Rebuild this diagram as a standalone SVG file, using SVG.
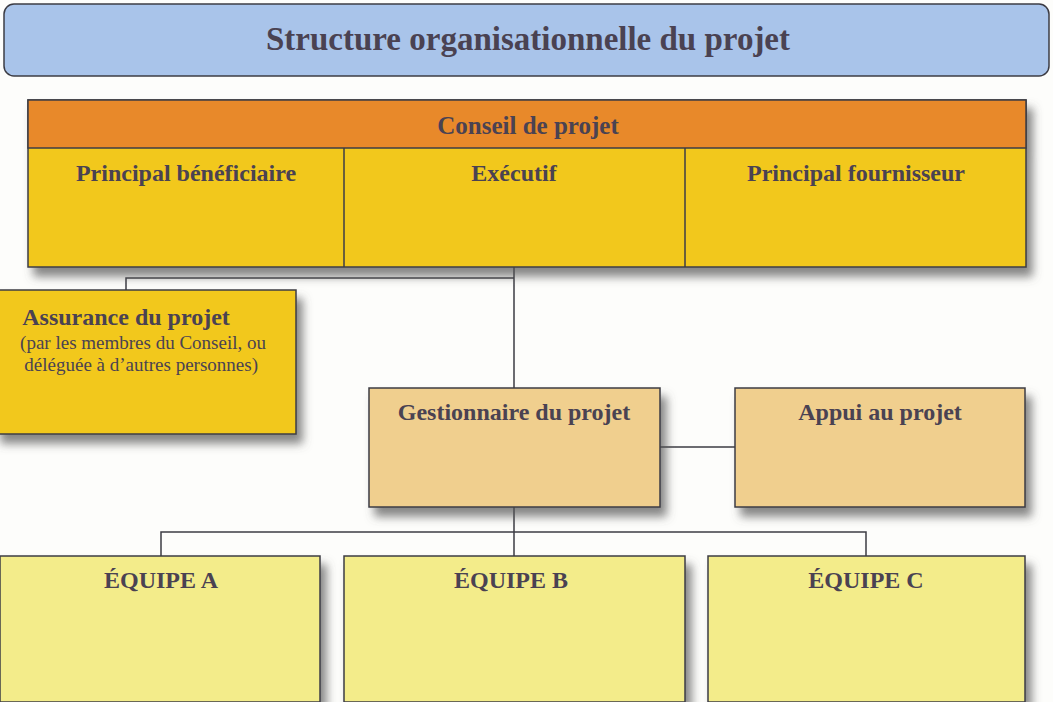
<svg xmlns="http://www.w3.org/2000/svg" width="1053" height="702" viewBox="0 0 1053 702">
<defs>
<filter id="sh" x="-10%" y="-10%" width="130%" height="140%">
<feDropShadow dx="6" dy="9" stdDeviation="5" flood-color="#555" flood-opacity="0.7"/>
</filter>
<style>
.t{font-family:"Liberation Serif","Times New Roman",serif;font-weight:bold;fill:#4a4252;text-anchor:middle;font-size:24px}
.r{font-family:"Liberation Serif","Times New Roman",serif;fill:#4a4252;text-anchor:end;font-size:19px}
.box{stroke:#3c3c44;stroke-width:1.5}
.ln{stroke:#3c3c44;stroke-width:1.5;fill:none}
</style>
</defs>
<rect width="1053" height="702" fill="#fdfdfb"/>
<g id="title">
<rect x="4" y="4" width="1045" height="72" rx="10" fill="#a9c4ea" class="box" stroke-width="2"/>
<text class="t" x="528" y="50" style="font-size:33px">Structure organisationnelle du projet</text>
</g>
<g id="connectors">
<path class="ln" d="M514 267V388M126 290V278H514M660 447H735M514 507V532M161 556V532H866V556M514 532V556"/>
</g>
<g id="conseil" filter="url(#sh)">
<rect x="28" y="100" width="998" height="167" fill="#f2c81c" class="box"/>
<rect x="28" y="100" width="998" height="48" fill="#e8892b" class="box"/>
<line x1="344" y1="148" x2="344" y2="267" class="ln"/>
<line x1="685" y1="148" x2="685" y2="267" class="ln"/>
</g>
<g id="conseil-text">
<text class="t" x="528" y="134" style="font-size:25px">Conseil de projet</text>
</g>
<g id="beneficiaire"><text class="t" x="186" y="181">Principal bénéficiaire</text></g>
<g id="executif"><text class="t" x="514" y="181">Exécutif</text></g>
<g id="fournisseur"><text class="t" x="856" y="181">Principal fournisseur</text></g>
<g id="assurance">
<rect x="-5" y="290" width="301" height="144" fill="#f2c81c" class="box" filter="url(#sh)"/>
<text class="t" x="126" y="325">Assurance du projet</text>
<text class="r" x="266" y="349">(par les membres du Conseil, ou</text>
<text class="r" x="258" y="371">déléguée à d’autres personnes)</text>
</g>
<g id="gestionnaire">
<rect x="369" y="388" width="291" height="119" fill="#f0cf8e" class="box" filter="url(#sh)"/>
<text class="t" x="514" y="420">Gestionnaire du projet</text>
</g>
<g id="appui">
<rect x="735" y="388" width="290" height="119" fill="#f0cf8e" class="box" filter="url(#sh)"/>
<text class="t" x="880" y="420">Appui au projet</text>
</g>
<g id="equipe-a">
<rect x="0" y="556" width="320" height="146" fill="#f3ec8a" class="box" filter="url(#sh)"/>
<text class="t" x="161" y="588">ÉQUIPE A</text>
</g>
<g id="equipe-b">
<rect x="344" y="556" width="341" height="146" fill="#f3ec8a" class="box" filter="url(#sh)"/>
<text class="t" x="511" y="588">ÉQUIPE B</text>
</g>
<g id="equipe-c">
<rect x="708" y="556" width="317" height="146" fill="#f3ec8a" class="box" filter="url(#sh)"/>
<text class="t" x="866" y="588">ÉQUIPE C</text>
</g>
</svg>
